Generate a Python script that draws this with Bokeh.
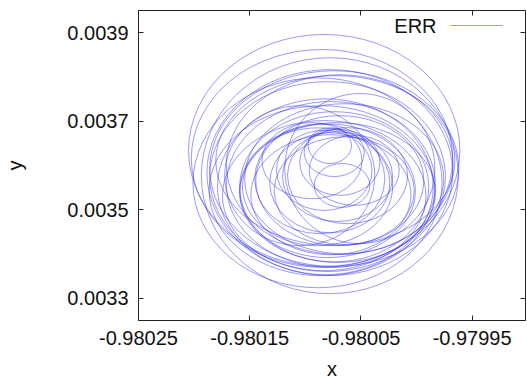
from bokeh.plotting import figure
from bokeh.models import (ColumnDataSource, FixedTicker, PrintfTickFormatter,
                          CustomJSTickFormatter, LinearAxis, Label, Legend,
                          LegendItem, Range1d)
from bokeh.core.properties import value
from bokeh.embed import file_html
from bokeh.resources import INLINE

# Orbit loops of the ERR trajectory: centre, horizontal and vertical extent
loop_x = [-0.980083, -0.980085, -0.980078, -0.980089, -0.980074, -0.980080,
          -0.980069, -0.980085, -0.980077, -0.980065, -0.980083, -0.980074,
          -0.980080, -0.980069, -0.980077, -0.980089, -0.980065, -0.980078,
          -0.980071, -0.980083, -0.980069, -0.980074, -0.980067, -0.980078,
          -0.980094, -0.980056, -0.980105, -0.980051, -0.980078, -0.980082,
          -0.980071, -0.980073, -0.980087, -0.980062]
loop_y = [0.003634, 0.003616, 0.003577, 0.003561, 0.003593, 0.003575,
          0.003602, 0.003543, 0.003557, 0.003570, 0.003532, 0.003552,
          0.003543, 0.003566, 0.003534, 0.003552, 0.003543, 0.003561,
          0.003575, 0.003589, 0.003607, 0.003629, 0.003555, 0.003645,
          0.003611, 0.003589, 0.003577, 0.003593, 0.003584, 0.003552,
          0.003539, 0.003611, 0.003570, 0.003577]
loop_w = [0.000244, 0.000235, 0.000231, 0.000224, 0.000224, 0.000212,
          0.000204, 0.000203, 0.000188, 0.000179, 0.000183, 0.000170,
          0.000158, 0.000151, 0.000144, 0.000135, 0.000126, 0.000108,
          0.000099, 0.000086, 0.000072, 0.000054, 0.000050, 0.000039,
          0.000090, 0.000081, 0.000135, 0.000135, 0.000221, 0.000194,
          0.000176, 0.000215, 0.000117, 0.000108]
loop_h = [0.000524, 0.000492, 0.000533, 0.000474, 0.000442, 0.000429,
          0.000406, 0.000384, 0.000375, 0.000339, 0.000339, 0.000339,
          0.000302, 0.000293, 0.000271, 0.000266, 0.000244, 0.000226,
          0.000203, 0.000181, 0.000149, 0.000108, 0.000099, 0.000081,
          0.000172, 0.000158, 0.000316, 0.000339, 0.000465, 0.000397,
          0.000316, 0.000384, 0.000248, 0.000217]

x_ticks = [-0.98025, -0.98015, -0.98005, -0.97995]
y_ticks = [0.0033, 0.0035, 0.0037, 0.0039]

FONT = "Liberation Sans"
SIZE = "20px"
LINE = "#2a2af0"

src = ColumnDataSource(dict(x=loop_x, y=loop_y, w=loop_w, h=loop_h))

p = figure(width=527, height=382, output_backend="svg", toolbar_location=None,
           x_range=Range1d(-0.98025, -0.979902), y_range=Range1d(0.00325, 0.00395),
           min_border_left=138, min_border_right=2, min_border_top=10,
           min_border_bottom=10)
p.grid.visible = False
p.outline_line_color = "#222222"
p.outline_line_width = 1
p.background_fill_color = "white"
p.border_fill_color = "white"

p.ellipse(x="x", y="y", width="w", height="h", source=src,
          fill_color=None, line_color=LINE, line_alpha=0.6, line_width=0.8)
# single-point line (draws nothing itself) that carries the key's line sample
key = p.line(x=loop_x[:1], y=loop_y[:1], line_color=LINE, line_alpha=0.6,
             line_width=0.8)

for ax, ticks, fmt, lab in ((p.xaxis[0], x_ticks, "%.5f", "x"),
                            (p.yaxis[0], y_ticks, "%.4f", "y")):
    ax.ticker = FixedTicker(ticks=ticks)
    ax.formatter = PrintfTickFormatter(format=fmt)
    ax.axis_label = lab
    ax.axis_label_text_font = FONT
    ax.axis_label_text_font_style = "normal"
    ax.axis_label_text_font_size = SIZE
    ax.major_label_text_font = FONT
    ax.major_label_text_font_size = SIZE
    ax.major_label_text_color = "#111111"
    ax.axis_label_text_color = "#111111"
    ax.major_tick_in = 5
    ax.major_tick_out = 0
    ax.minor_tick_in = 0
    ax.minor_tick_out = 0
    ax.axis_line_color = "#222222"
    ax.major_tick_line_color = "#222222"

p.xaxis.major_label_standoff = 10
p.xaxis.axis_label_standoff = 10
p.yaxis.major_label_standoff = 10
p.yaxis.axis_label_standoff = 38

# mirrored ticks on the top and right edges
for side, ticks in (("above", x_ticks), ("right", y_ticks)):
    m = LinearAxis(ticker=FixedTicker(ticks=ticks),
                   formatter=CustomJSTickFormatter(code="return ''"),
                   major_tick_in=5, major_tick_out=0, minor_tick_in=0,
                   minor_tick_out=0, major_label_standoff=0,
                   axis_line_color=None, major_tick_line_color="#222222")
    p.add_layout(m, side)

# gnuplot-style key: title text, then the line sample to its right
p.add_layout(Label(x=-0.979982, y=0.003914, text="ERR",
                   text_align="right", text_baseline="middle",
                   text_font=FONT, text_font_size=SIZE,
                   text_color="#111111"))
legend = Legend(items=[LegendItem(label=value(""), renderers=[key])],
                location=(312, 289), border_line_color=None,
                background_fill_alpha=0, glyph_width=53, glyph_height=12,
                label_width=0, label_height=12, padding=0, margin=0,
                label_standoff=0, spacing=0)
p.add_layout(legend)

with open("out.html", "w") as f:
    f.write(file_html(p, INLINE))
